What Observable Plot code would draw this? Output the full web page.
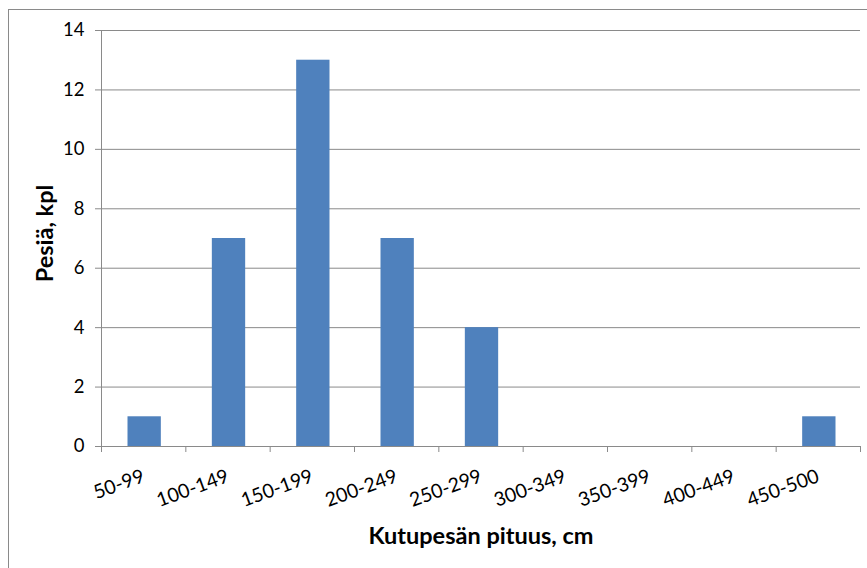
<!DOCTYPE html>
<html>
<head>
<meta charset="utf-8">
<script src="https://cdn.jsdelivr.net/npm/d3@7"></script>
<script src="https://cdn.jsdelivr.net/npm/@observablehq/plot@0.6"></script>
<style>
  html, body { margin: 0; padding: 0; background: #fff; }
  #wrap { position: relative; width: 867px; height: 568px; overflow: hidden; }
  #border { position: absolute; left: 8px; top: 9px; width: 900px; height: 600px; border: 1px solid #8a8a8a; box-sizing: border-box; }
  #chart { position: absolute; left: 0; top: 0; }
</style>
</head>
<body>
<div id="wrap"><div id="border"></div><div id="chart"></div></div>
<script>
const categories = ["50-99", "100-149", "150-199", "200-249", "250-299", "300-349", "350-399", "400-449", "450-500"];
const counts = [1, 7, 13, 7, 4, 0, 0, 0, 1];
const yTicks = [0, 2, 4, 6, 8, 10, 12, 14];
const xTitle = "Kutupesän pituus, cm";
const yTitle = "Pesiä, kpl";

const data = categories.map((c, i) => ({c, i, v: counts[i]}));
const boundaries = d3.range(categories.length + 1);
const centers = categories.map((c, i) => i + 0.5);
const gray = "#8a8a8a";

const chart = Plot.plot({
  width: 867,
  height: 568,
  marginLeft: 101,
  marginRight: 7,
  marginTop: 30,
  marginBottom: 122,
  style: {fontFamily: "Lato, 'Open Sans', sans-serif", background: "transparent"},
  x: {type: "linear", domain: [0, categories.length]},
  y: {domain: [0, 14]},
  marks: [
    Plot.ruleY(yTicks, {stroke: gray, strokeWidth: 1}),
    Plot.axisY(yTicks, {
      tickSize: 6, tickPadding: 11, stroke: gray, fontSize: 18.5, color: "#000", label: null
    }),
    Plot.axisX(boundaries, {tickSize: 6, stroke: gray, tickFormat: () => "", label: null}),
    Plot.axisX(centers, {
      tickSize: 0, tickPadding: 29, tickRotate: -20, fontSize: 19.5, color: "#000",
      tickFormat: (d) => categories[Math.floor(d)], label: null
    }),
    Plot.rectY(data, {x1: "i", x2: (d) => d.i + 1, y: "v", fill: "#4f81bd", insetLeft: 26.5, insetRight: 24.5}),
    Plot.ruleX([0], {stroke: gray}),
    Plot.ruleY([0], {stroke: gray}),
    Plot.text([yTitle], {text: (d) => d, frameAnchor: "left", textAnchor: "middle", rotate: -90, dx: -56, dy: -5, fontWeight: "bold", fontSize: 23.5, fill: "#000"}),
    Plot.text([xTitle], {text: (d) => d, frameAnchor: "bottom", dy: 97, fontWeight: "bold", fontSize: 23.5, fill: "#000"})
  ]
});
document.getElementById("chart").appendChild(chart);
</script>
</body>
</html>
